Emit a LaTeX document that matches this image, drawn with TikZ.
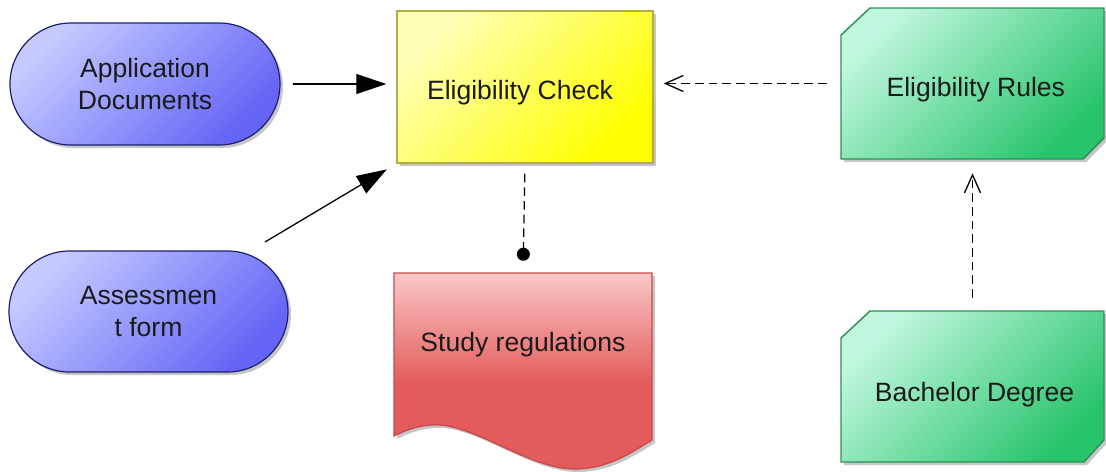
\documentclass[tikz,border=0pt]{standalone}
\usepackage{fontspec}
\setmainfont{Liberation Sans}
\usetikzlibrary{arrows.meta,shapes.misc,shadows}
\definecolor{txt}{HTML}{1A1A1A}
\definecolor{bluelt}{HTML}{C6CAFF}
\definecolor{bluedk}{HTML}{6464F6}
\definecolor{bluebd}{HTML}{1E1E6E}
\definecolor{yellt}{HTML}{FFFFB8}
\definecolor{yeldk}{HTML}{FFFF00}
\definecolor{yelbd}{HTML}{B0B040}
\definecolor{grnlt}{HTML}{C0F7DE}
\definecolor{grndk}{HTML}{28C46C}
\definecolor{grnbd}{HTML}{2E9058}
\definecolor{docpink}{HTML}{FAC8C8}
\definecolor{docred}{HTML}{E35B5B}
\definecolor{docbd}{HTML}{C84848}
\definecolor{shadowcol}{HTML}{B8B8B8}
\pgfdeclareverticalshading{docshade}{100bp}{color(0bp)=(docred); color(47bp)=(docred); color(75bp)=(docpink); color(100bp)=(docpink)}
\begin{document}
\begin{tikzpicture}[x=0.75pt,y=-0.75pt,
  every node/.style={font=\fontsize{19.9pt}{24pt}\selectfont, text=txt},
  shad/.style={drop shadow={shadow xshift=2.25pt, shadow yshift=-2.25pt, fill=shadowcol, opacity=0.8}},
  stadium/.style={rounded rectangle, draw=bluebd, line width=0.9pt, top color=bluelt, bottom color=bluedk, shading angle=45, shad, align=center, inner sep=0pt},
  checkbox/.style={rectangle, draw=yelbd, line width=1.1pt, top color=yellt, bottom color=yeldk, shading angle=45, shad, inner sep=0pt},
  plain/.style={rectangle, inner sep=0pt},
  grnshape/.style={draw=grnbd, line width=1.1pt, top color=grnlt, bottom color=grndk, shading angle=45},
  docshape/.style={draw=docbd, line width=0.9pt, shading=docshade},
  conn/.style={draw=black, line width=0.975pt},
  solidarr/.style={conn, -{Triangle[length=22.5pt, width=15pt]}},
  dashline/.style={conn, dash pattern=on 6.5pt off 3.75pt},
  openarr/.style={dashline, -{Straight Barb[length=13.5pt, width=12pt]}},
  dotarr/.style={dashline, -{Circle[length=9.75pt]}}
]
\useasboundingbox (0,0) rectangle (1106,471);
% shadows of custom shapes
\fill[shadowcol, opacity=0.8, xshift=2.25pt, yshift=-2.25pt] (870,8) -- (1104,8) -- (1104,138) -- (1083,159) -- (841,159) -- (841,35) -- cycle;
\fill[shadowcol, opacity=0.8, xshift=2.25pt, yshift=-2.25pt] (870,311) -- (1104,311) -- (1104,440) -- (1084,462) -- (841,462) -- (841,338) -- cycle;
\fill[shadowcol, opacity=0.8, xshift=2.25pt, yshift=-2.25pt] (394,273) -- (652,273) -- (652,440) .. controls (635,450) and (610,469) .. (575,469) .. controls (530,469) and (480,428) .. (440,425) .. controls (425,424) and (410,428) .. (394,436) -- cycle;
% custom shapes
\path[grnshape] (870,8) -- (1104,8) -- (1104,138) -- (1083,159) -- (841,159) -- (841,35) -- cycle;
\path[grnshape] (870,311) -- (1104,311) -- (1104,440) -- (1084,462) -- (841,462) -- (841,338) -- cycle;
\path[docshape] (394,273) -- (652,273) -- (652,440) .. controls (635,450) and (610,469) .. (575,469) .. controls (530,469) and (480,428) .. (440,425) .. controls (425,424) and (410,428) .. (394,436) -- cycle;
% nodes
\node[stadium, minimum width=202.5pt, minimum height=91.5pt] (appdoc) at (145,84) {Application\\Documents};
\node[stadium, minimum width=209.25pt, minimum height=90.75pt] (assess) at (148.5,311.5) {Assessmen\\t form};
\node[checkbox, minimum width=192pt, minimum height=114pt, text height=23.5pt, inner xsep=0pt] (check) at (525,87) {\hspace*{-7.5pt}Eligibility Check};
\node[plain, minimum width=197.25pt, minimum height=113.25pt, text height=23.5pt] (rules) at (972.5,83.5) {\hspace*{5pt}Eligibility Rules};
\node[plain, minimum width=197.25pt, minimum height=113.25pt, text height=26.5pt] (bach) at (972.5,386.5) {\hspace*{3pt}Bachelor Degree};
\node[plain, minimum width=193.5pt, minimum height=103.5pt, text height=19pt] (study) at (523,342) {Study regulations};
% connectors
\draw[solidarr, shorten <=9pt, shorten >=7.5pt] (appdoc.east) -- (appdoc.east -| check.west);
\draw[solidarr, shorten <=16.5pt, shorten >=8.25pt] (assess) -- (check.south west);
\draw[openarr, shorten <=10.5pt, shorten >=7.5pt] (rules.west) -- (rules.west -| check.east);
\draw[dotarr, shorten <=7.5pt, shorten >=9pt] (check.south) -- (study.north);
\draw[openarr, shorten <=9.75pt, shorten >=10.5pt] (bach.north) -- (rules.south);
\end{tikzpicture}
\end{document}
